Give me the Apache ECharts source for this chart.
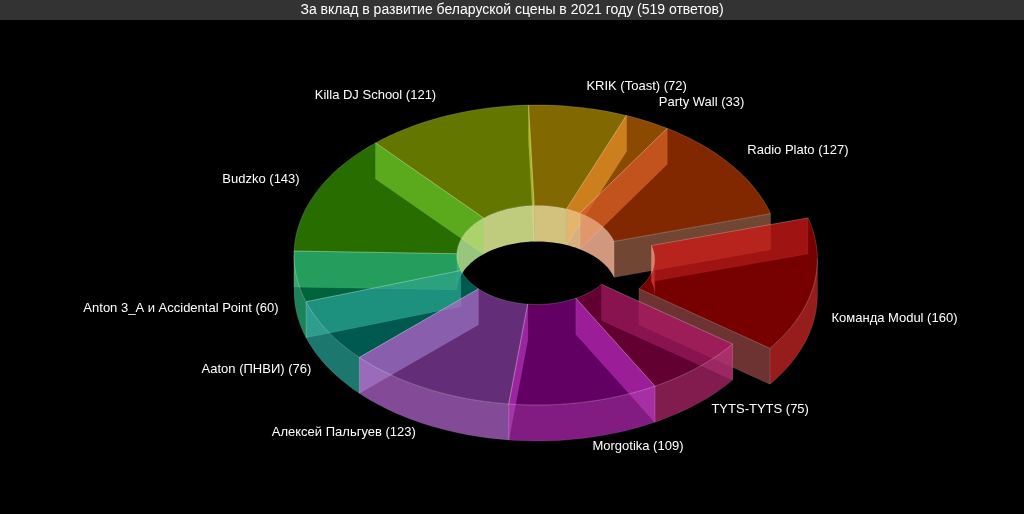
<!DOCTYPE html>
<html>
<head>
<meta charset="utf-8">
<script src="https://cdn.jsdelivr.net/npm/echarts@6/dist/echarts.min.js"></script>
<style>html,body{margin:0;background:#000}#c{width:1024px;height:514px}</style>
</head>
<body>
<div id="c"></div>
<script>
var names = ['Команда Modul', 'TYTS-TYTS', 'Morgotika', 'Алексей Пальгуев', 'Aaton (ПНВИ)', 'Anton 3_A и Accidental Point', 'Budzko', 'Killa DJ School', 'KRIK (Toast)', 'Party Wall', 'Radio Plato'];
var values = [160, 75, 109, 123, 76, 60, 143, 121, 72, 33, 127];
var colors = ['#c00000', '#a00050', '#a000a0', '#a048c0', '#009080', '#00a060', '#40b000', '#a0c000', '#d0a800', '#e07800', '#d04000'];
var exploded = [true, false, false, false, false, false, false, false, false, false, false];

var cx = 537, cy = 255, rx = 243, ry = 150, hole = 0.33, depth = 36, startAngle = -16;
var total = values.reduce(function (a, b) { return a + b; }, 0);
var angles = [], acc = startAngle;
values.forEach(function (v) { var s = v / total * 360; angles.push([acc, acc + s]); acc += s; });
var R = Math.PI / 180;

function pt(a, f, dy, ox, oy) {
  return [cx + ox + rx * f * Math.cos(a * R), cy + oy + ry * f * Math.sin(a * R) + dy];
}
function arc(a0, a1, f, dy, ox, oy) {
  var p = [], n = Math.max(2, Math.ceil(Math.abs(a1 - a0) / 2));
  for (var i = 0; i <= n; i++) p.push(pt(a0 + (a1 - a0) * i / n, f, dy, ox, oy));
  return p;
}
function clip(a0, a1, lo) {
  var out = [];
  for (var k = -1; k <= 1; k++) {
    var s = Math.max(a0, lo + k * 360), e = Math.min(a1, lo + 180 + k * 360);
    if (e > s) out.push([s, e]);
  }
  return out;
}
function wall(a0, a1, f, ox, oy) {
  return arc(a0, a1, f, 0, ox, oy).concat(arc(a1, a0, f, depth, ox, oy));
}

function renderItem(params, api) {
  var i = params.dataIndex, a0 = angles[i][0], a1 = angles[i][1], mid = (a0 + a1) / 2;
  var ox = exploded[i] ? 38 * Math.cos(mid * R) : 0, oy = exploded[i] ? 24 * Math.sin(mid * R) : 0;
  var c = colors[i], kids = [];
  var dark = echarts.color.lift(c, 0.4);
  clip(a0, a1, 180).forEach(function (r) {
    kids.push({ type: 'polygon', z2: 1, shape: { points: wall(r[0], r[1], hole, ox, oy) },
      style: { fill: echarts.color.modifyAlpha(echarts.color.lift(c, 0.55), 0.9), stroke: 'rgba(255,255,255,0.15)', lineWidth: 0.5 } });
  });
  [a0, a1].forEach(function (a) {
    var p = [pt(a, hole, 0, ox, oy), pt(a, 1, 0, ox, oy), pt(a, 1, depth, ox, oy), pt(a, hole, depth, ox, oy)];
    kids.push({ type: 'polygon', z2: 2, shape: { points: p },
      style: { fill: echarts.color.modifyAlpha(dark, 0.5), stroke: 'rgba(255,255,255,0.2)', lineWidth: 0.5 } });
  });
  clip(a0, a1, 0).forEach(function (r) {
    kids.push({ type: 'polygon', z2: 3, shape: { points: wall(r[0], r[1], 1, ox, oy) },
      style: { fill: echarts.color.modifyAlpha(echarts.color.lift(c, 0.15), 0.75), stroke: 'rgba(255,255,255,0.2)', lineWidth: 0.5 } });
  });
  kids.push({ type: 'polygon', z2: 4, shape: { points: arc(a0, a1, 1, 0, ox, oy).concat(arc(a1, a0, hole, 0, ox, oy)) },
    style: { fill: echarts.color.modifyAlpha(c, 0.62), stroke: 'rgba(255,255,255,0.3)', lineWidth: 0.6 } });
  var cm = Math.cos(mid * R), sm = Math.sin(mid * R);
  var lx = cx + ox + rx * 1.05 * cm + (cm > 0 ? 6 : -6), ly = cy + oy + ry * 1.1 * sm + (sm > 0 ? depth : 0) - 6;
  kids.push({ type: 'text', z2: 10, x: lx, y: ly,
    style: { text: names[i] + ' (' + values[i] + ')', fill: '#fff', font: '13px "Liberation Sans", Arial, sans-serif',
      align: cm > 0.15 ? 'left' : (cm < -0.15 ? 'right' : 'center'), verticalAlign: 'middle' } });
  return { type: 'group', children: kids };
}

var chart = echarts.init(document.getElementById('c'));
chart.setOption({
  backgroundColor: '#000',
  graphic: [
    { type: 'rect', left: 0, top: 0, shape: { width: 1024, height: 20 }, style: { fill: '#333' } },
    { type: 'text', left: 'center', top: 3, style: { text: 'За вклад в развитие беларуской сцены в 2021 году (519 ответов)', fill: '#fff', font: '14px "Liberation Sans", Arial, sans-serif' } }
  ],
  series: [{ type: 'custom', coordinateSystem: 'none', renderItem: renderItem, data: values }]
});
</script>
</body>
</html>
